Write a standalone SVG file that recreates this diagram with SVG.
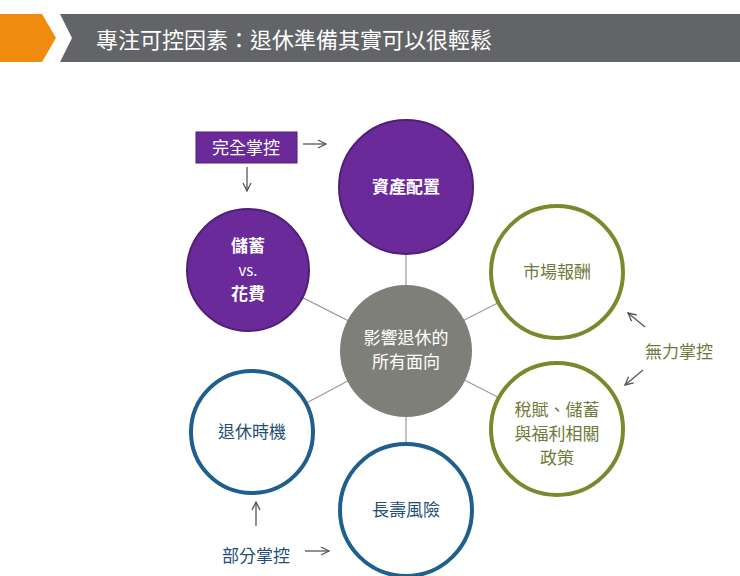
<svg xmlns="http://www.w3.org/2000/svg" width="740" height="576" viewBox="0 0 740 576">
<style>
text{font-family:"Noto Sans CJK TC","Noto Sans CJK SC",sans-serif;text-anchor:middle}
.p{fill:#6a2a9a;stroke:#4e1f75;stroke-width:2}
.g{fill:#fff;stroke:#788a2e;stroke-width:4}
.b{fill:#fff;stroke:#1f5f8b;stroke-width:4}
.w{fill:#fff;font-size:17px;font-weight:bold}
.gt{fill:#6f7a3a;font-size:17px}
.bt{fill:#1f4f75;font-size:17px}
.ar{stroke:#555;stroke-width:1.3;fill:none}
</style>
<defs><marker id="m" markerWidth="10" markerHeight="10" refX="9" refY="5" orient="auto" markerUnits="userSpaceOnUse"><path d="M1,1 L9,5 L1,9" fill="none" stroke="#555" stroke-width="1.3"/></marker></defs>
<rect width="740" height="576" fill="#fff"/>
<g id="header">
<polygon points="0,14 42,14 56,38 42,62 0,62" fill="#ef8c10"/>
<polygon points="60,14 740,14 740,62 60,62 72,38" fill="#636467"/>
<text x="96" y="48" style="fill:#fff;font-size:22px;text-anchor:start">專注可控因素：退休準備其實可以很輕鬆</text>
</g>
<g id="connectors" stroke="#999" stroke-width="1.2">
<line x1="406" y1="350" x2="406" y2="187"/>
<line x1="406" y1="350" x2="248" y2="270"/>
<line x1="406" y1="350" x2="558" y2="272"/>
<line x1="406" y1="350" x2="558" y2="428"/>
<line x1="406" y1="350" x2="406" y2="510"/>
<line x1="406" y1="350" x2="252" y2="432"/>
</g>
<g id="n1"><circle cx="406" cy="187" r="67" class="p"/><text x="406" y="193" class="w">資產配置</text></g>
<g id="n2"><circle cx="248" cy="270" r="61" class="p"/><text x="248" y="252" class="w">儲蓄</text><text x="248" y="276" class="w" style="font-weight:normal;font-size:15px">vs.</text><text x="248" y="300" class="w">花費</text></g>
<g id="n3"><circle cx="557" cy="272" r="66" class="g"/><text x="557" y="278" class="gt">市場報酬</text></g>
<g id="n4"><circle cx="557" cy="429" r="66" class="g"/><text x="557" y="416" class="gt">稅賦、儲蓄</text><text x="557" y="440" class="gt">與福利相關</text><text x="557" y="464" class="gt">政策</text></g>
<g id="n5"><circle cx="406" cy="510" r="66" class="b"/><text x="406" y="516" class="bt">長壽風險</text></g>
<g id="n6"><circle cx="252" cy="432" r="61" class="b"/><text x="252" y="438" class="bt">退休時機</text></g>
<g id="center"><circle cx="406" cy="351" r="66" fill="#7f7f7a"/><text x="406" y="344" class="w" style="font-weight:normal">影響退休的</text><text x="406" y="368" class="w" style="font-weight:normal">所有面向</text></g>
<g id="full"><rect x="196" y="132" width="101" height="31" fill="#6a2a9a" stroke="#4e1f75"/><text x="246" y="154" style="fill:#fff;font-size:17px">完全掌控</text>
<line x1="303" y1="144" x2="326" y2="144" class="ar" marker-end="url(#m)"/><line x1="247" y1="167" x2="247" y2="191" class="ar" marker-end="url(#m)"/></g>
<g id="none"><text x="679" y="358" class="gt">無力掌控</text>
<line x1="645" y1="327" x2="628" y2="313" class="ar" marker-end="url(#m)"/><line x1="643" y1="370" x2="625" y2="385" class="ar" marker-end="url(#m)"/></g>
<g id="part"><text x="256" y="562" class="bt">部分掌控</text>
<line x1="305" y1="551" x2="329" y2="551" class="ar" marker-end="url(#m)"/><line x1="256" y1="526" x2="256" y2="502" class="ar" marker-end="url(#m)"/></g>
</svg>
